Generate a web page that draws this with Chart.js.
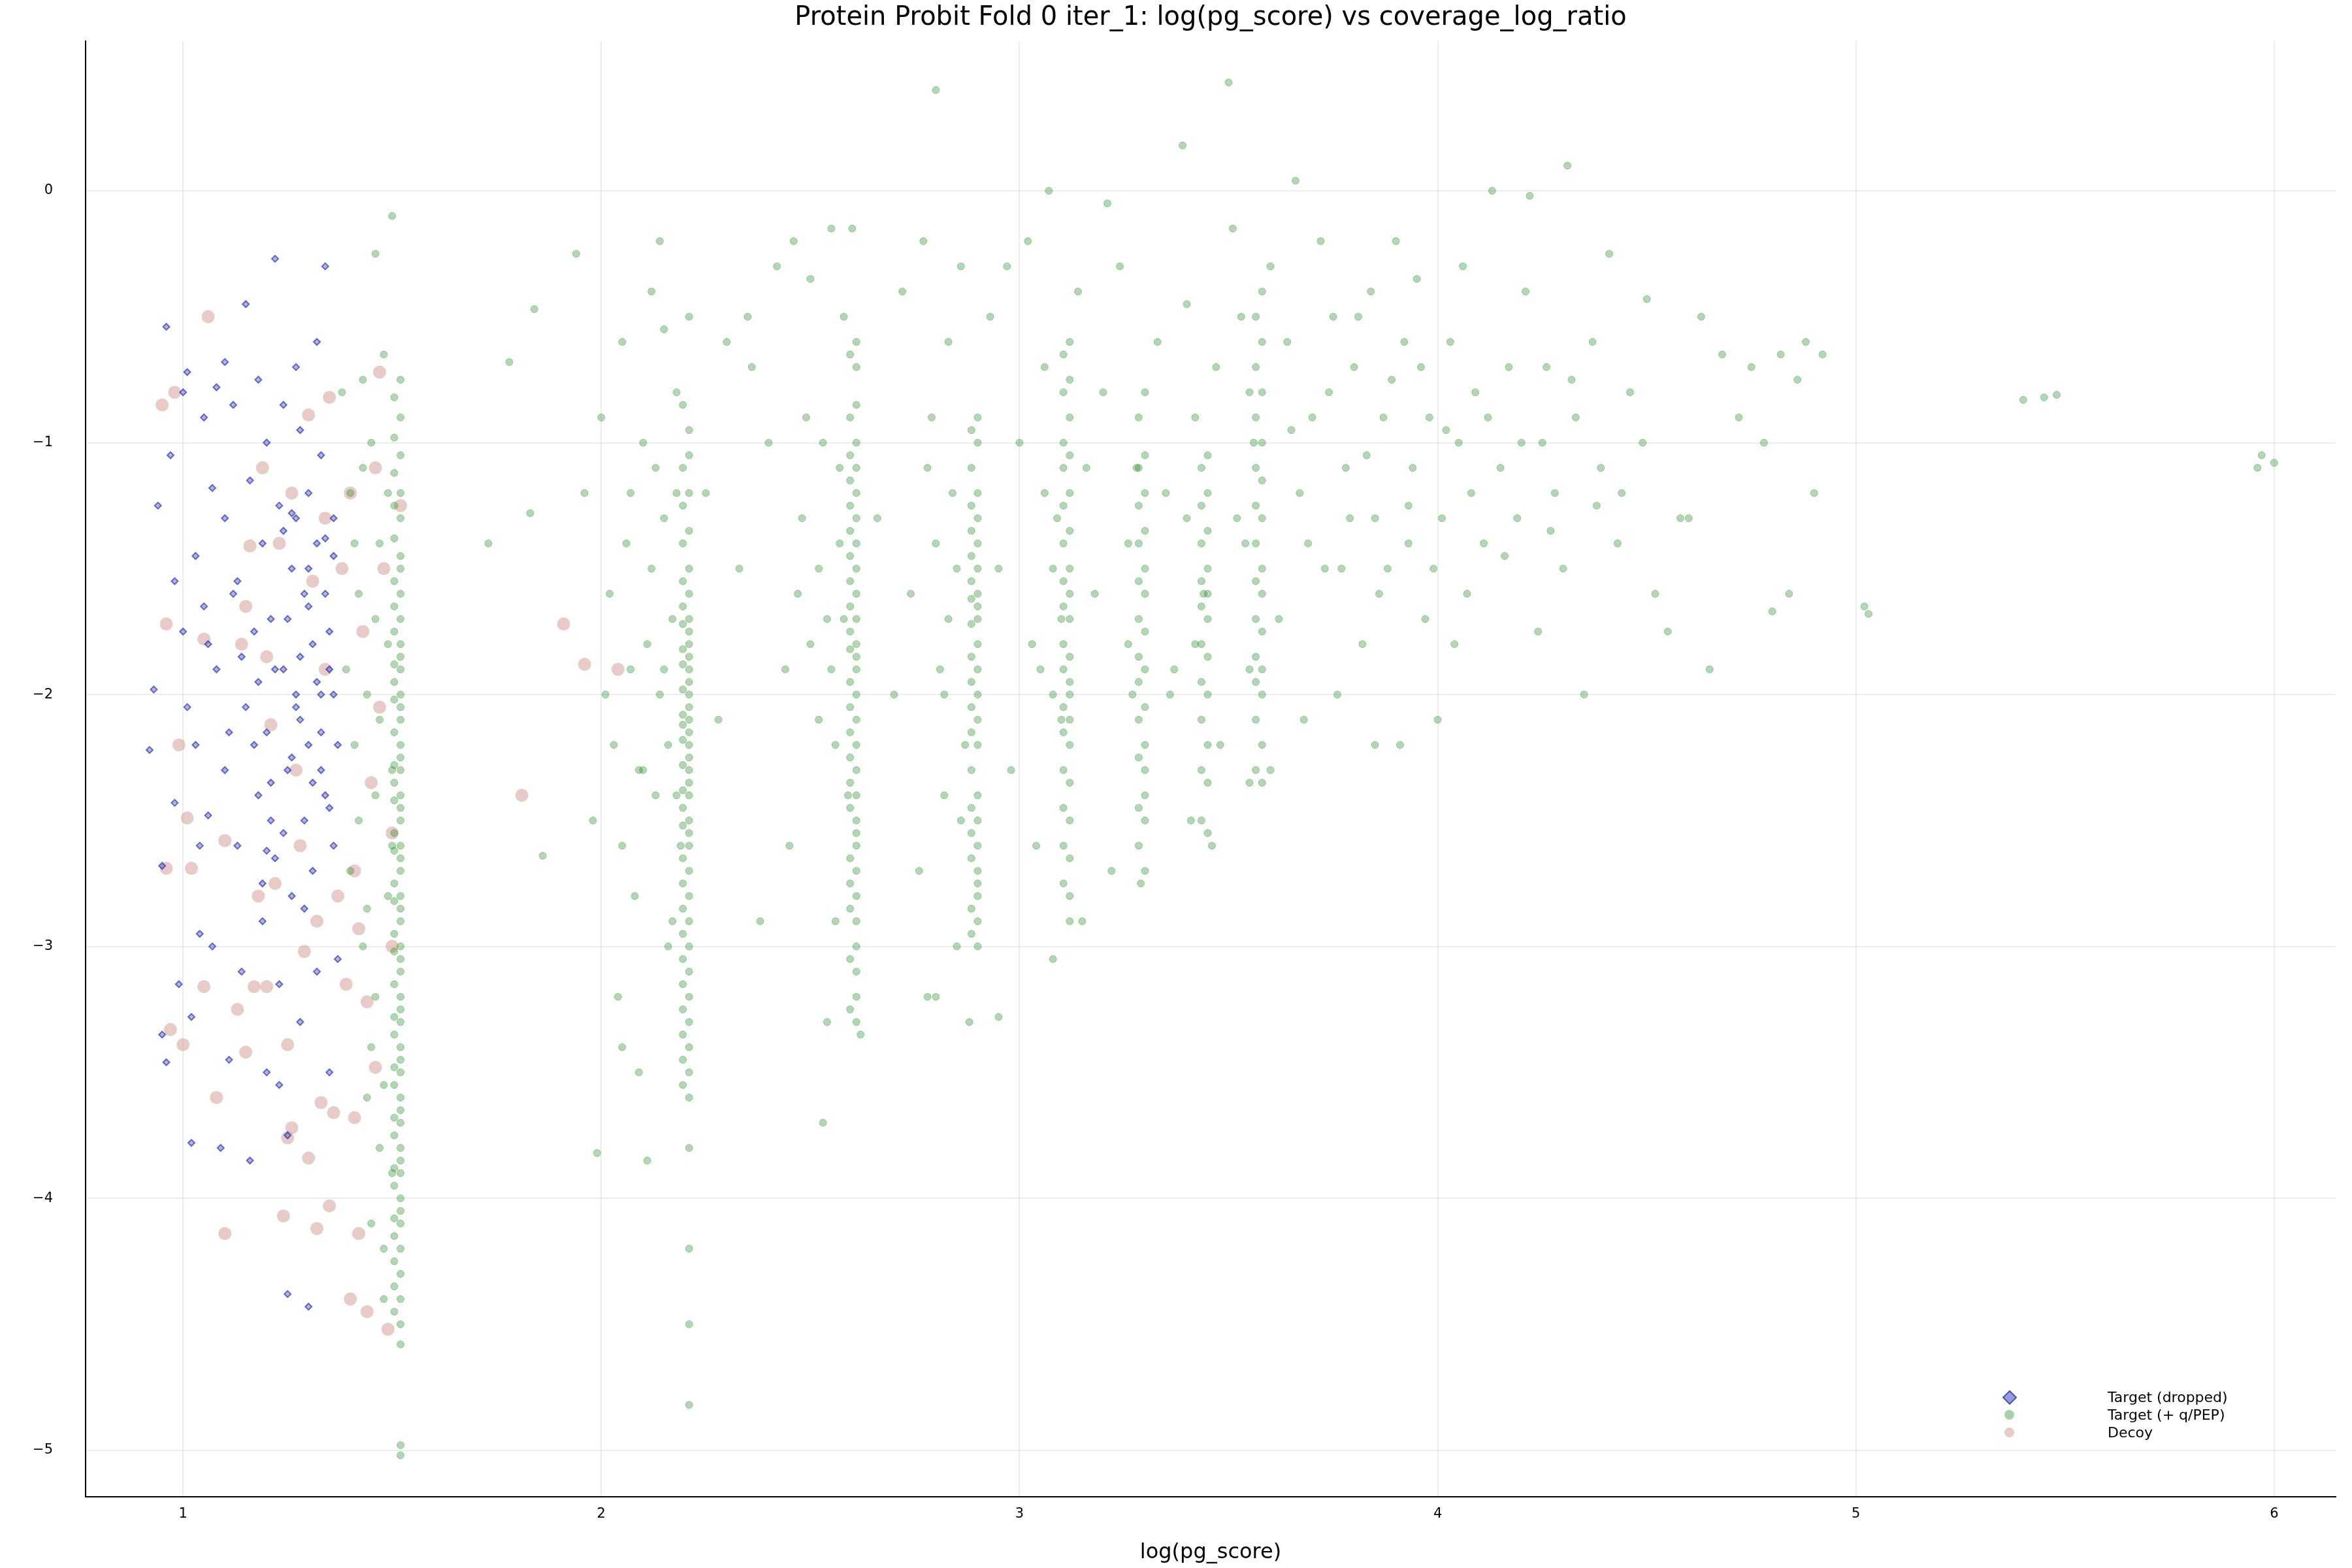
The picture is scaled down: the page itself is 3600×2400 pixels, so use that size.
<!DOCTYPE html>
<html><head><meta charset="utf-8">
<script src="https://cdn.jsdelivr.net/npm/chart.js@4/dist/chart.umd.min.js"></script>
<style>
html,body{margin:0;padding:0;background:#fff;font-family:"DejaVu Sans",sans-serif}
#wrap{position:relative;width:3600px;height:2400px}
#title{position:absolute;top:0;left:131px;width:3444px;text-align:center;font-size:40px;line-height:48px;color:#000}
#legend{position:absolute;left:3050px;top:2125px;font-size:22px;color:#000}
#legend div{height:27px;line-height:27px;position:relative;padding-left:176px}
#legend span{position:absolute;left:18px;top:6px;width:15px;height:15px}
</style></head><body>
<div id="wrap">
<canvas id="c" width="3600" height="2400"></canvas>
<div id="title">Protein Probit Fold 0 iter_1: log(pg_score) vs coverage_log_ratio</div>
<div id="legend">
<div><span style="background:rgba(40,60,190,0.5);border:2px solid rgba(20,30,160,0.6);transform:rotate(45deg);width:12px;height:12px"></span>Target (dropped)</div>
<div><span style="background:rgba(34,139,34,0.4);border-radius:50%"></span>Target (+ q/PEP)</div>
<div><span style="background:rgba(205,140,130,0.45);border-radius:50%"></span>Decoy</div>
</div>
</div>
<script>
const xTicks=[1,2,3,4,5,6];
const yTicks=[0,-1,-2,-3,-4,-5];
const seriesNames=["Target (dropped)","Target (+ q/PEP)","Decoy"];
// dense vertical stripes of the kept targets: x position and y values
const stripeX=[1.52,2.21,2.61,2.90,3.12,3.30,3.45,3.58];
const stripeY=[
[-0.75,-0.9,-1.05,-1.2,-1.3,-1.45,-1.5,-1.6,-1.7,-1.8,-1.85,-1.9,-2.0,-2.05,-2.1,-2.2,-2.25,-2.3,-2.4,-2.45,-2.5,-2.6,-2.65,-2.7,-2.8,-2.85,-2.9,-3.0,-3.05,-3.1,-3.2,-3.25,-3.3,-3.4,-3.45,-3.5,-3.6,-3.65,-3.7,-3.8,-3.85,-3.9,-4.0,-4.05,-4.1,-4.2,-4.3,-4.4,-4.5,-4.58,-4.98,-5.02],
[-0.5,-0.95,-1.05,-1.2,-1.35,-1.5,-1.6,-1.7,-1.75,-1.8,-1.85,-1.9,-1.95,-2.0,-2.05,-2.1,-2.15,-2.2,-2.25,-2.3,-2.35,-2.4,-2.5,-2.55,-2.6,-2.7,-2.8,-2.9,-3.0,-3.1,-3.2,-3.3,-3.4,-3.5,-3.6,-3.8,-4.2,-4.5,-4.82],
[-0.6,-0.7,-0.85,-1.0,-1.1,-1.2,-1.3,-1.4,-1.5,-1.6,-1.7,-1.8,-1.85,-1.9,-2.0,-2.1,-2.2,-2.3,-2.4,-2.5,-2.55,-2.6,-2.7,-2.8,-2.9,-3.0,-3.1,-3.2,-3.3],
[-0.9,-1.0,-1.2,-1.3,-1.4,-1.5,-1.6,-1.65,-1.7,-1.8,-1.9,-2.0,-2.1,-2.2,-2.4,-2.5,-2.6,-2.7,-2.75,-2.8,-2.9,-3.0],
[-0.6,-0.75,-0.9,-1.05,-1.2,-1.35,-1.5,-1.6,-1.7,-1.85,-1.95,-2.0,-2.1,-2.2,-2.35,-2.5,-2.65,-2.8,-2.9],
[-0.8,-1.05,-1.2,-1.35,-1.5,-1.6,-1.75,-1.9,-2.05,-2.2,-2.3,-2.4,-2.5,-2.7],
[-1.05,-1.2,-1.35,-1.5,-1.6,-1.7,-1.85,-2.0,-2.2,-2.35,-2.55],
[-0.4,-0.6,-0.8,-1.0,-1.15,-1.3,-1.5,-1.6,-1.75,-1.9,-2.0,-2.2,-2.35]
];
// second, slightly offset set of stripe points
const stripeX2=[1.505,2.195,2.595,2.885,3.105,3.285,3.435,3.565];
const stripeY2=[
[-0.82,-0.98,-1.12,-1.25,-1.38,-1.55,-1.65,-1.75,-1.88,-1.95,-2.02,-2.15,-2.28,-2.35,-2.42,-2.55,-2.62,-2.75,-2.82,-2.95,-3.02,-3.15,-3.28,-3.35,-3.48,-3.55,-3.68,-3.75,-3.88,-3.95,-4.08,-4.15,-4.25,-4.35,-4.45],
[-0.85,-1.1,-1.25,-1.4,-1.55,-1.65,-1.72,-1.82,-1.88,-1.98,-2.08,-2.12,-2.18,-2.28,-2.38,-2.45,-2.52,-2.65,-2.75,-2.85,-2.95,-3.05,-3.15,-3.25,-3.35,-3.45,-3.55],
[-0.65,-0.9,-1.05,-1.15,-1.25,-1.35,-1.45,-1.55,-1.65,-1.75,-1.82,-1.95,-2.05,-2.15,-2.25,-2.35,-2.45,-2.65,-2.75,-2.85,-3.05,-3.25],
[-0.95,-1.1,-1.25,-1.35,-1.45,-1.55,-1.62,-1.72,-1.85,-1.95,-2.05,-2.15,-2.3,-2.45,-2.55,-2.65,-2.85,-2.95],
[-0.65,-0.8,-1.0,-1.1,-1.25,-1.4,-1.55,-1.65,-1.8,-1.9,-2.05,-2.15,-2.3,-2.45,-2.6,-2.75],
[-0.9,-1.1,-1.25,-1.4,-1.55,-1.7,-1.85,-1.95,-2.1,-2.25,-2.45,-2.6],
[-1.1,-1.25,-1.4,-1.55,-1.65,-1.8,-1.95,-2.1,-2.3,-2.5],
[-0.5,-0.7,-0.9,-1.1,-1.25,-1.4,-1.55,-1.7,-1.85,-1.95,-2.1,-2.3]
];
// scattered kept targets [x, y]
const keptPts=[
[1.38,-0.8],[1.4,-1.2],[1.42,-1.6],[1.44,-2.0],[1.46,-2.4],[1.4,-2.7],[1.43,-3.0],[1.45,-3.4],[1.47,-3.8],[1.48,-4.2],[1.41,-2.2],[1.39,-1.9],[1.45,-1.0],[1.48,-0.65],[1.5,-0.1],[1.46,-0.25],[1.43,-0.75],[1.47,-1.4],[1.49,-2.8],[1.44,-3.6],
[1.42,-2.5],[1.44,-2.85],[1.46,-3.2],[1.48,-3.55],[1.5,-3.9],[1.45,-4.1],[1.49,-1.8],[1.47,-2.1],[1.41,-1.4],[1.43,-1.1],[1.49,-1.2],[1.5,-2.3],[1.5,-2.6],[1.48,-4.4],[1.46,-1.7],
[1.73,-1.4],[1.78,-0.68],[1.83,-1.28],[1.84,-0.47],[1.86,-2.64],[1.94,-0.25],[1.96,-1.2],[1.98,-2.5],[1.99,-3.82],[2.0,-0.9],[2.02,-1.6],[2.03,-2.2],[2.04,-3.2],[2.05,-0.6],[2.07,-1.9],[2.08,-2.8],[2.09,-3.5],[2.1,-1.0],[2.12,-0.4],[2.13,-2.4],[2.14,-0.2],[2.15,-1.3],[2.16,-3.0],[2.17,-1.7],[2.18,-0.8],[2.11,-3.85],[2.06,-1.4],[2.01,-2.0],[2.19,-2.6],[2.15,-0.55],
[2.12,-1.5],[2.14,-2.0],[2.16,-2.2],[2.18,-1.2],[2.13,-1.1],[2.17,-2.9],[2.09,-2.3],[2.07,-1.2],[2.11,-1.8],[2.05,-2.6],[2.15,-1.9],[2.18,-2.4],
[2.25,-1.2],[2.28,-2.1],[2.3,-0.6],[2.33,-1.5],[2.36,-0.7],[2.38,-2.9],[2.4,-1.0],[2.42,-0.3],[2.44,-1.9],[2.45,-2.6],[2.46,-0.2],[2.48,-1.3],[2.5,-0.35],[2.52,-2.1],[2.53,-3.7],[2.54,-1.7],[2.55,-0.15],[2.56,-2.9],[2.57,-1.1],[2.58,-0.5],[2.59,-2.4],[2.54,-3.3],[2.49,-0.9],
[2.52,-1.5],[2.55,-1.9],[2.57,-1.4],[2.5,-1.8],[2.56,-2.2],[2.53,-1.0],[2.47,-1.6],[2.58,-1.7],
[2.66,-1.3],[2.7,-2.0],[2.72,-0.4],[2.74,-1.6],[2.76,-2.7],[2.77,-0.2],[2.78,-3.2],[2.79,-0.9],[2.8,0.4],[2.81,-1.9],[2.82,-2.4],[2.83,-0.6],[2.84,-1.2],[2.85,-3.0],[2.86,-0.3],[2.87,-2.2],[2.88,-3.3],
[2.8,-1.4],[2.83,-1.7],[2.85,-1.5],[2.78,-1.1],[2.86,-2.5],[2.82,-2.0],
[2.93,-0.5],[2.95,-1.5],[2.97,-0.3],[2.98,-2.3],[3.0,-1.0],[3.02,-0.2],[3.03,-1.8],[3.04,-2.6],[3.06,-0.7],[3.07,0.0],[3.08,-3.05],[3.09,-1.3],[3.1,-2.1],[3.14,-0.4],[3.16,-1.1],[3.18,-1.6],[3.2,-0.8],[3.21,-0.05],[3.22,-2.7],[3.24,-0.3],[3.26,-1.4],[3.27,-2.0],
[3.05,-1.9],[3.08,-2.0],[3.06,-1.2],[3.1,-1.7],[3.28,-1.1],[3.26,-1.8],[3.4,-1.3],[3.42,-1.8],[3.55,-0.8],[3.54,-1.4],
[3.33,-0.6],[3.35,-1.2],[3.37,-1.9],[3.39,0.18],[3.4,-0.45],[3.41,-2.5],[3.42,-0.9],[3.44,-1.6],[3.47,-0.7],[3.48,-2.2],[3.5,0.43],[3.51,-0.15],[3.52,-1.3],[3.53,-0.5],[3.55,-2.35],[3.56,-1.0],[3.6,-0.3],[3.62,-1.7],[3.64,-0.6],[3.66,0.04],[3.67,-1.2],[3.68,-2.1],[3.7,-0.9],[3.72,-0.2],[3.73,-1.5],[3.75,-0.5],[3.76,-2.0],[3.78,-1.1],[3.8,-0.7],[3.82,-1.8],[3.84,-0.4],[3.85,-1.3],[3.87,-0.9],[3.88,-1.5],[3.9,-0.2],[3.91,-2.2],[3.92,-0.6],[3.94,-1.1],[3.95,-0.35],[3.97,-1.7],[3.98,-0.9],[4.0,-2.1],[4.01,-1.3],[4.03,-0.6],[4.05,-1.0],[4.07,-1.6],[4.09,-0.8],[4.11,-1.4],[4.13,0.0],[4.15,-1.1],[4.17,-0.7],[4.19,-1.3],[4.21,-0.4],[4.22,-0.02],[4.24,-1.75],[4.26,-0.7],[4.28,-1.2],[4.3,-1.5],[4.31,0.1],[4.33,-0.9],[4.35,-2.0],[4.37,-0.6],[4.39,-1.1],[4.41,-0.25],[4.43,-1.4],[4.46,-0.8],[4.49,-1.0],[4.5,-0.43],[4.52,-1.6],[4.55,-1.75],[4.58,-1.3],[4.6,-1.3],[4.63,-0.5],[4.65,-1.9],[4.68,-0.65],[4.72,-0.9],[4.75,-0.7],[4.78,-1.0],[4.8,-1.67],[4.82,-0.65],[4.84,-1.6],[4.86,-0.75],[4.88,-0.6],[4.9,-1.2],[4.92,-0.65],[5.02,-1.65],[5.03,-1.68],[5.4,-0.83],[5.45,-0.82],[5.48,-0.81],[5.96,-1.1],[5.97,-1.05],[6.0,-1.08],
[3.65,-0.95],[3.69,-1.4],[3.74,-0.8],[3.79,-1.3],[3.81,-0.5],[3.83,-1.05],[3.86,-1.6],[3.89,-0.75],[3.93,-1.25],[3.96,-0.7],[3.99,-1.5],[4.02,-0.95],[4.04,-1.8],[4.08,-1.2],[4.12,-0.9],[4.16,-1.45],[4.2,-1.0],[4.27,-1.35],[4.32,-0.75],[4.38,-1.25],
[3.15,-2.9],[3.29,-2.75],[3.46,-2.6],[3.6,-2.3],[3.85,-2.2],[2.95,-3.28],[2.62,-3.35],[2.8,-3.2],[2.6,-0.15],[2.35,-0.5],[2.05,-3.4],[2.1,-2.3],[3.08,-1.5],[3.36,-2.0],[3.55,-1.9],[3.77,-1.5],[3.93,-1.4],[4.06,-0.3],[4.25,-1.0],[4.44,-1.2]
];
// dropped targets [x, y]
const droppedPts=[
[0.92,-2.22],[0.93,-1.98],[0.94,-1.25],[0.95,-2.68],[0.95,-3.35],[0.96,-3.46],[0.96,-0.54],[0.97,-1.05],[0.98,-1.55],[0.98,-2.43],[0.99,-3.15],[1.0,-1.75],[1.0,-0.8],[1.01,-0.72],[1.01,-2.05],[1.02,-3.28],[1.02,-3.78],[1.03,-1.45],[1.03,-2.2],[1.04,-2.95],[1.05,-0.9],[1.05,-1.65],[1.06,-2.48],[1.07,-1.18],[1.07,-3.0],[1.08,-0.78],[1.08,-1.9],[1.09,-3.8],[1.1,-0.68],[1.1,-1.3],[1.1,-2.3],[1.11,-3.45],[1.12,-1.6],[1.12,-0.85],[1.13,-2.6],[1.14,-3.1],[1.15,-0.45],[1.15,-2.05],[1.16,-1.15],[1.16,-3.85],[1.17,-1.75],[1.18,-0.75],[1.18,-2.4],[1.19,-1.4],[1.19,-2.9],[1.2,-1.0],[1.2,-2.15],[1.2,-3.5],[1.21,-1.7],[1.22,-0.27],[1.22,-2.65],[1.23,-1.25],[1.23,-3.15],[1.24,-1.9],[1.24,-0.85],[1.25,-2.3],[1.25,-4.38],[1.26,-1.5],[1.26,-2.8],[1.27,-1.3],[1.27,-2.0],[1.28,-3.3],[1.28,-0.95],[1.29,-1.6],[1.29,-2.5],[1.3,-1.2],[1.3,-2.2],[1.3,-4.43],[1.31,-1.8],[1.31,-2.7],[1.32,-0.6],[1.32,-1.4],[1.32,-3.1],[1.33,-2.0],[1.33,-1.05],[1.34,-0.3],[1.34,-2.4],[1.34,-1.6],[1.35,-3.5],[1.35,-1.9],[1.36,-2.6],[1.36,-1.3],[1.37,-2.2],[1.37,-3.05],[1.25,-1.7],[1.22,-1.9],[1.28,-2.1],[1.33,-2.3],[1.21,-2.5],[1.26,-2.25],[1.3,-1.5],[1.35,-1.75],[1.24,-1.35],[1.29,-2.85],[1.18,-1.95],[1.13,-1.55],[1.27,-0.7],[1.19,-2.75],[1.23,-3.55],[1.32,-1.95],[1.17,-2.2],[1.14,-1.85],[1.31,-2.35],[1.36,-1.45],[1.2,-2.62],[1.25,-3.75],[1.11,-2.15],[1.06,-1.8],[1.04,-2.6],
[1.26,-1.28],[1.34,-1.38],[1.33,-2.15],[1.35,-2.45],[1.27,-2.05],[1.21,-2.35],[1.3,-1.65],[1.24,-2.55],[1.28,-1.85],[1.36,-2.0]
];
// decoys [x, y]
const decoyPts=[
[0.95,-0.85],[0.96,-1.72],[0.96,-2.69],[0.97,-3.33],[0.98,-0.8],[0.99,-2.2],[1.0,-3.39],[1.01,-2.49],[1.02,-2.69],[1.05,-1.78],[1.05,-3.16],[1.06,-0.5],[1.08,-3.6],[1.1,-2.58],[1.1,-4.14],[1.13,-3.25],[1.14,-1.8],[1.15,-1.65],[1.15,-3.42],[1.16,-1.41],[1.17,-3.16],[1.18,-2.8],[1.19,-1.1],[1.2,-3.16],[1.2,-1.85],[1.21,-2.12],[1.22,-2.75],[1.23,-1.4],[1.24,-4.07],[1.25,-3.39],[1.25,-3.76],[1.26,-1.2],[1.26,-3.72],[1.27,-2.3],[1.28,-2.6],[1.29,-3.02],[1.3,-0.89],[1.3,-3.84],[1.31,-1.55],[1.32,-4.12],[1.32,-2.9],[1.33,-3.62],[1.34,-1.9],[1.34,-1.3],[1.35,-0.82],[1.35,-4.03],[1.36,-3.66],[1.37,-2.8],[1.38,-1.5],[1.39,-3.15],[1.4,-1.2],[1.4,-4.4],[1.41,-2.7],[1.41,-3.68],[1.42,-4.14],[1.43,-1.75],[1.44,-3.22],[1.44,-4.45],[1.45,-2.35],[1.46,-3.48],[1.46,-1.1],[1.47,-0.72],[1.47,-2.05],[1.49,-4.52],[1.5,-3.0],[1.5,-2.55],[1.52,-1.25],[1.81,-2.4],[1.91,-1.72],[1.96,-1.88],[2.04,-1.9],[1.42,-2.93],[1.48,-1.5]
];
const kept=[];
stripeX.forEach((x,i)=>stripeY[i].forEach(y=>kept.push({x:x,y:y})));
stripeX2.forEach((x,i)=>stripeY2[i].forEach(y=>kept.push({x:x,y:y})));
keptPts.forEach(p=>kept.push({x:p[0],y:p[1]}));
const toXY=a=>a.map(p=>({x:p[0],y:p[1]}));
const tickFont={family:"DejaVu Sans",size:21};
new Chart(document.getElementById('c'),{
 type:'scatter',
 data:{datasets:[
  {label:seriesNames[0],data:toXY(droppedPts),pointStyle:'rectRot',pointRadius:5,backgroundColor:'rgba(50,70,200,0.4)',borderColor:'rgba(20,30,160,0.6)',borderWidth:2},
  {label:seriesNames[1],data:kept,pointRadius:5.5,backgroundColor:'rgba(34,139,34,0.35)',borderColor:'rgba(34,139,34,0.35)',borderWidth:1},
  {label:seriesNames[2],data:toXY(decoyPts),pointRadius:10,backgroundColor:'rgba(205,140,130,0.45)',borderWidth:0}
 ]},
 options:{responsive:false,animation:false,devicePixelRatio:1,
  layout:{padding:{top:62,right:25,left:0,bottom:0}},
  plugins:{legend:{display:false},tooltip:{enabled:false}},
  scales:{
   x:{type:'linear',min:0.767,max:6.147,afterBuildTicks:s=>{s.ticks=xTicks.map(v=>({value:v}));},
     afterFit:s=>{s.height=109;},
     grid:{color:'rgba(0,0,0,0.07)',lineWidth:2,drawTicks:false},border:{color:'#000',width:2},
     ticks:{font:tickFont,color:'#000',padding:14},
     title:{display:true,text:'log(pg_score)',font:{family:"DejaVu Sans",size:32},color:'#000',padding:{top:14}}},
   y:{type:'linear',min:-5.185,max:0.595,afterBuildTicks:s=>{s.ticks=yTicks.map(v=>({value:v}));},
     afterFit:s=>{s.width=131;},
     grid:{color:'rgba(0,0,0,0.07)',lineWidth:2,drawTicks:false},border:{color:'#000',width:2},
     ticks:{font:tickFont,color:'#000',padding:50,callback:v=>v<0?'\u2212'+Math.abs(v):String(v)}}
  }}
});
</script></body></html>
